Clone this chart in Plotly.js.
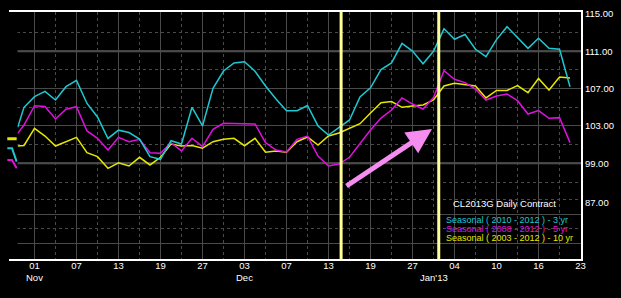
<!DOCTYPE html>
<html>
<head>
<meta charset="utf-8">
<script src="https://cdn.plot.ly/plotly-3.0.1.min.js"></script>
<style>html,body{margin:0;padding:0;background:#000;}#chart{width:621px;height:298px;}</style>
</head>
<body>
<div id="chart"></div>
<script>
// ---- data ----
const firstOffset = -0.6;
const seasonal3yr = [102.86, 105.0, 106.14, 106.71, 105.78, 107.21, 107.89, 105.41, 103.96, 101.66, 102.55, 102.30, 101.60, 99.71, 99.43, 101.42, 101.07, 105.0, 103.0, 107.04, 108.89, 109.75, 109.89, 108.86, 107.28, 105.89, 104.64, 104.63, 105.19, 103.0, 102.03, 102.83, 103.64, 106.10, 107.09, 109.04, 109.75, 111.84, 111.03, 109.66, 111.01, 113.41, 112.29, 112.80, 111.22, 110.42, 112.26, 113.64, 112.50, 111.32, 112.40, 111.32, 111.22, 107.21];
const seasonal5yr = [102.21, 103.10, 105.17, 105.09, 103.75, 104.79, 105.06, 102.46, 101.68, 100.42, 101.78, 101.31, 101.57, 100.13, 100.07, 101.21, 100.32, 101.68, 100.78, 102.64, 103.29, 103.29, 103.21, 103.21, 101.21, 100.42, 100.21, 101.57, 101.92, 99.78, 98.71, 98.92, 99.64, 101.07, 102.57, 103.85, 104.71, 106.0, 105.35, 104.82, 106.05, 108.92, 108.0, 107.64, 106.96, 105.78, 106.21, 106.43, 105.71, 104.28, 104.64, 103.82, 103.89, 101.21];
const seasonal10yr = [100.85, 100.91, 102.75, 101.92, 100.85, 101.28, 101.78, 100.13, 99.71, 98.46, 99.06, 98.71, 99.64, 98.82, 99.64, 101.07, 100.85, 100.91, 100.61, 101.31, 101.57, 101.68, 100.88, 101.68, 100.18, 100.32, 100.18, 101.31, 101.82, 100.96, 101.92, 102.25, 102.78, 103.24, 104.39, 105.49, 105.62, 105.0, 105.14, 105.25, 105.78, 107.28, 107.57, 107.44, 107.28, 106.0, 106.80, 106.80, 107.32, 106.57, 108.09, 106.85, 108.25, 108.14];
// small segments left of the axis
const edgeX = [-1.59, -1.14, -0.7];
const edge3yr = [100.61, 100.61, 99.17];
const edge5yr = [99.35, 99.35, 98.46];
const edge10yr = [101.63, 101.63, 101.63];
// x ticks (every 4th trading day)
const xTickIdx = [1, 5, 9, 13, 17, 21, 25, 29, 33, 37, 41, 45, 49, 53];
const xTickText = ['01', '07', '13', '19', '27', '03', '07', '13', '19', '27', '04', '10', '16', '23'];
const xMinorIdx = [3, 7, 11, 15, 19, 23, 27, 31, 35, 39, 43, 47, 51];
const monthIdx = [1, 21, 39];
const monthText = ['Nov', 'Dec', "Jan'13"];
// y ticks
const yTickVals = [115, 111, 107, 103, 99, 94.74];
const yTickText = ['115.00', '111.00', '107.00', '103.00', '99.00', '87.00'];
const yGridMajor = [111, 107, 103, 99, 93.56, 90.35];
const yGridMinor = [113, 109, 105, 101, 96.89, 95.17, 91.96];
const markerDays = [30.2, 39.5];
const legendLines = ['Seasonal ( 2010 - 2012 ) - 3 yr', 'Seasonal ( 2008 - 2012 ) - 5 yr', 'Seasonal ( 2003 - 2012 ) - 10 yr'];
const chartTitle = 'CL2013G Daily Contract';

const dayIndex = [firstOffset].concat(seasonal3yr.slice(1).map((_, k) => k));

const C3 = '#1ec8d2', C5 = '#e010e0', C10 = '#e6e600';
const gridC = '#4a4a4a';
const yRange = [88.74, 115.214];

const traces = [
  {x: dayIndex, y: seasonal10yr, mode: 'lines', line: {color: C10, width: 1.5}, hoverinfo: 'skip'},
  {x: dayIndex, y: seasonal5yr, mode: 'lines', line: {color: C5, width: 1.5}, hoverinfo: 'skip'},
  {x: dayIndex, y: seasonal3yr, mode: 'lines', line: {color: C3, width: 1.5}, hoverinfo: 'skip'},
  {x: edgeX, y: edge10yr, mode: 'lines', line: {color: C10, width: 3}, xaxis: 'x2', yaxis: 'y2', hoverinfo: 'skip'},
  {x: edgeX, y: edge3yr, mode: 'lines', line: {color: C3, width: 2}, xaxis: 'x2', yaxis: 'y2', hoverinfo: 'skip'},
  {x: edgeX, y: edge5yr, mode: 'lines', line: {color: C5, width: 2}, xaxis: 'x2', yaxis: 'y2', hoverinfo: 'skip'},
  {x: [], y: [], xaxis: 'x', yaxis: 'y3', hoverinfo: 'skip'}
];

const W = 576; // plot width incl. left strip
const px = v => (v - 5) / W;
const py = v => (259 - v) / 247;

const shapes = [
  {type: 'line', xref: 'paper', yref: 'y', x0: px(11), x1: 1, y0: 111, y1: 111, line: {color: '#5c5c5c', width: 2}, layer: 'between'},
  {type: 'line', xref: 'paper', yref: 'y', x0: px(11), x1: 1, y0: 99, y1: 99, line: {color: '#5c5c5c', width: 2}, layer: 'between'},
  {type: 'rect', xref: 'paper', yref: 'paper', x0: px(429), x1: px(580), y0: 0.004, y1: py(178), fillcolor: '#000', line: {width: 0}, layer: 'between'}
];
markerDays.forEach(d => shapes.push({type: 'line', xref: 'x', yref: 'paper', x0: d, x1: d, y0: 0, y1: 1, line: {color: '#ffff99', width: 3}, layer: 'above'}));

const fontFam = 'Liberation Sans, Arial, sans-serif';
const annotations = [
  {xref: 'paper', yref: 'paper', x: px(504), y: py(203), text: chartTitle, showarrow: false, xanchor: 'center', yanchor: 'middle', font: {family: fontFam, size: 9.5, color: '#ffffff'}},
  {xref: 'x', yref: 'y', x: 38.86, y: 102.67, ax: -87, ay: 58, text: '', showarrow: true, arrowhead: 2, arrowsize: 1, arrowwidth: 5, arrowcolor: '#f58cf0'}
];
const legendColors = [C3, C5, C10];
const legendY = [220, 229, 238];
legendLines.forEach((t, k) => annotations.push({xref: 'paper', yref: 'paper', x: px(444), y: py(legendY[k]), text: t, showarrow: false, xanchor: 'left', yanchor: 'middle', font: {family: fontFam, size: 9, color: legendColors[k]}}));
monthIdx.forEach((m, k) => annotations.push({xref: 'x', yref: 'paper', x: m, y: py(277), text: monthText[k], showarrow: false, xanchor: 'center', yanchor: 'middle', font: {family: fontFam, size: 9.5, color: '#ffffff'}}));

const layout = {
  width: 621, height: 298,
  paper_bgcolor: '#000', plot_bgcolor: '#000',
  margin: {l: 5, r: 40, t: 12, b: 39},
  showlegend: false,
  font: {family: fontFam, color: '#ffffff', size: 9.5},
  xaxis: {
    domain: [px(11), 1], range: [-1.238, 53.048],
    tickmode: 'array', tickvals: xTickIdx, ticktext: xTickText,
    showgrid: true, gridcolor: gridC, gridwidth: 1,
    minor: {tickmode: 'array', tickvals: xMinorIdx, showgrid: true, gridcolor: gridC, griddash: 'dot', ticks: ''},
    zeroline: false, showline: true, linecolor: '#ffffff', linewidth: 2, mirror: true, ticks: '',
    ticklabelstandoff: -3,
    tickfont: {family: fontFam, size: 9.5, color: '#ffffff'}, fixedrange: true
  },
  yaxis: {
    side: 'right', range: yRange, tickmode: 'array', tickvals: yTickVals, ticktext: yTickText,
    showgrid: false, zeroline: false, showline: true, linecolor: '#ffffff', linewidth: 2, mirror: true, ticks: '',
    tickfont: {family: fontFam, size: 9.5, color: '#ffffff'}
  },
  yaxis3: {
    overlaying: 'y', side: 'right', range: yRange, tickmode: 'array', tickvals: yGridMajor,
    showticklabels: false, showgrid: true, gridcolor: gridC, gridwidth: 1, zeroline: false, showline: false, ticks: '',
    minor: {tickmode: 'array', tickvals: yGridMinor, showgrid: true, gridcolor: gridC, griddash: 'dot', ticks: ''}
  },
  xaxis2: {domain: [px(6), px(17.5)], range: [-1.714, -0.619], visible: false, showgrid: false, zeroline: false, anchor: 'y2'},
  yaxis2: {domain: [0, 1], range: yRange, visible: false, showgrid: false, zeroline: false, anchor: 'x2'},
  shapes: shapes,
  annotations: annotations
};

Plotly.newPlot('chart', traces, layout, {displayModeBar: false, staticPlot: true});
</script>
</body>
</html>
